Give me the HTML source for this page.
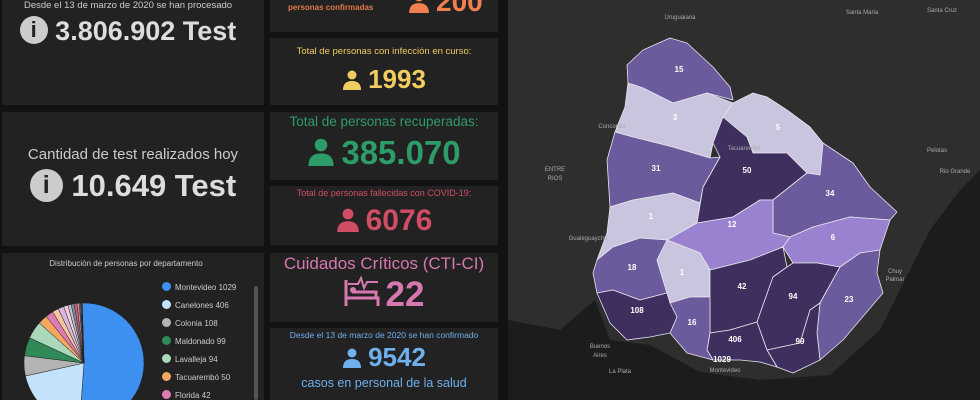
<!DOCTYPE html>
<html><head><meta charset="utf-8"><style>
*{margin:0;padding:0;box-sizing:border-box}
html,body{width:980px;height:400px;overflow:hidden}
body{background:#121212;font-family:"Liberation Sans","DejaVu Sans",sans-serif;position:relative}
.p{position:absolute;background:#222;overflow:hidden}
.c{position:absolute;left:0;right:0;text-align:center;white-space:nowrap}
.lg{position:absolute;left:160px;font-size:8px;color:#ccc}
.lg i{display:inline-block;width:9px;height:9px;border-radius:50%;vertical-align:-1px;margin-right:4px}
svg.ic{vertical-align:-2px;margin-right:6px}
</style></head><body>
<div class="p" style="left:2px;top:0;width:262px;height:105px">
 <div class="c" style="top:0;font-size:9.5px;color:#ccc;left:-10px">Desde el 13 de marzo de 2020 se han procesado</div>
 <div class="c" style="top:16px;font-size:27px;font-weight:bold;color:#ddd;left:-10px"><span style="display:inline-block;width:28px;height:28px;border-radius:50%;background:#ccc;color:#222;font-size:22px;line-height:28px;vertical-align:3px">i</span> 3.806.902 Test</div>
</div>
<div class="p" style="left:2px;top:112px;width:262px;height:134px">
 <div class="c" style="top:34px;font-size:15px;color:#ccc">Cantidad de test realizados hoy</div>
 <div class="c" style="top:56px;font-size:31px;font-weight:bold;color:#ddd"><span style="display:inline-block;width:33px;height:33px;border-radius:50%;background:#ccc;color:#222;font-size:25px;line-height:33px;vertical-align:3px">i</span> 10.649 Test</div>
</div>
<div class="p" style="left:2px;top:253px;width:262px;height:147px">
 <div class="c" style="top:6px;font-size:8px;color:#ccc;left:-14px">Distribución de personas por departamento</div>
 <svg id="pie" width="200" height="147" style="position:absolute;left:0;top:0"></svg>
 <div style="position:absolute;left:252px;top:33px;width:4px;height:114px;background:#555;border-radius:2px"></div>
 <div class="lg" style="top:29px"><i style="background:#3d8ff0"></i>Montevideo 1029</div>
 <div class="lg" style="top:47px"><i style="background:#c3e2fb"></i>Canelones 406</div>
 <div class="lg" style="top:65px"><i style="background:#b3b3b3"></i>Colonia 108</div>
 <div class="lg" style="top:83px"><i style="background:#2f8a58"></i>Maldonado 99</div>
 <div class="lg" style="top:101px"><i style="background:#a9d8bb"></i>Lavalleja 94</div>
 <div class="lg" style="top:119px"><i style="background:#f5a75f"></i>Tacuarembó 50</div>
 <div class="lg" style="top:137px"><i style="background:#df7bb3"></i>Florida 42</div>
</div>
<div class="p" style="left:270px;top:0;width:228px;height:32px">
 <div style="position:absolute;left:18px;top:3px;font-size:8px;font-weight:bold;color:#e0784a">personas confirmadas</div>
 <div style="position:absolute;left:138px;top:-14px;font-size:28px;font-weight:bold;color:#f08050;white-space:nowrap"><svg class="ic" width="22" height="22" viewBox="0 0 20 20"><circle cx="10" cy="5" r="4.5" fill="#f08050"/><path d="M1 20 Q1 11 10 11 Q19 11 19 20Z" fill="#f08050"/></svg>200</div>
</div>
<div class="p" style="left:270px;top:38px;width:228px;height:67px">
 <div class="c" style="top:8px;font-size:9.5px;color:#f2cc60">Total de personas con infección en curso:</div>
 <div class="c" style="top:26px;font-size:26px;font-weight:bold;color:#f2cc60"><svg class="ic" width="20" height="20" viewBox="0 0 20 20"><circle cx="10" cy="5" r="4.5" fill="#f2cc60"/><path d="M1 20 Q1 11 10 11 Q19 11 19 20Z" fill="#f2cc60"/></svg>1993</div>
</div>
<div class="p" style="left:270px;top:112px;width:228px;height:68px">
 <div class="c" style="top:2px;font-size:13.5px;color:#2e9c68">Total de personas recuperadas:</div>
 <div class="c" style="top:22px;font-size:33px;font-weight:bold;color:#2e9c68"><svg class="ic" width="28" height="28" viewBox="0 0 20 20"><circle cx="10" cy="5" r="4.5" fill="#2e9c68"/><path d="M1 20 Q1 11 10 11 Q19 11 19 20Z" fill="#2e9c68"/></svg>385.070</div>
</div>
<div class="p" style="left:270px;top:186px;width:228px;height:59px">
 <div class="c" style="top:2px;font-size:9px;color:#d04d65">Total de personas fallecidas con COVID-19:</div>
 <div class="c" style="top:18px;font-size:30px;font-weight:bold;color:#d04d65"><svg class="ic" width="24" height="24" viewBox="0 0 20 20"><circle cx="10" cy="5" r="4.5" fill="#d04d65"/><path d="M1 20 Q1 11 10 11 Q19 11 19 20Z" fill="#d04d65"/></svg>6076</div>
</div>
<div class="p" style="left:270px;top:253px;width:228px;height:69px">
 <div class="c" style="top:1px;font-size:17px;color:#d878b0">Cuidados Críticos (CTI-CI)</div>
 <div class="c" style="top:22px;font-size:35px;font-weight:bold;color:#d878b0"><svg class="ic" width="36" height="32" viewBox="0 0 36 32"><path d="M2 4 V30 M2 22 H34 V30 M8 16 H32 V22" stroke="#d878b0" stroke-width="3" fill="none"/><circle cx="9" cy="14" r="3" fill="#d878b0"/><path d="M4 8 H14 L17 2 L20 12 L23 6 H34" stroke="#d878b0" stroke-width="2" fill="none"/></svg>22</div>
</div>
<div class="p" style="left:270px;top:328px;width:228px;height:72px">
 <div class="c" style="top:2px;font-size:8.5px;color:#6fb0ee">Desde el 13 de marzo de 2020 se han confirmado</div>
 <div class="c" style="top:14px;font-size:26px;font-weight:bold;color:#6fb0ee"><svg class="ic" width="20" height="20" viewBox="0 0 20 20"><circle cx="10" cy="5" r="4.5" fill="#6fb0ee"/><path d="M1 20 Q1 11 10 11 Q19 11 19 20Z" fill="#6fb0ee"/></svg>9542</div>
 <div class="c" style="top:48px;font-size:12.5px;color:#6fb0ee">casos en personal de la salud</div>
</div>
<div style="position:absolute;left:508px;top:0;width:472px;height:400px;background:#2e2e2e;overflow:hidden">
<svg width="472" height="400" viewBox="508 0 472 400" style="position:absolute;left:0;top:0">
 <path d="M508 320 L560 330 L595 300 L610 340 L650 345 L700 372 L760 380 L830 375 L880 330 L905 280 L930 230 L960 190 L980 170 L980 400 L508 400 Z" fill="#1c1c1c"/>
 <g stroke="#e8e6f0" stroke-width="0.8" stroke-linejoin="round">
 <polygon fill="#6b5a9c" points="627,65 643,50 670,38 687,43 713,67 730,87 733,100 707,93 673,103 643,88 628,83"/>
 <polygon fill="#c9c5de" points="628,83 643,88 673,103 707,93 733,103 713,143 710,158 673,147 633,137 615,132 625,107"/>
 <polygon fill="#c9c5de" points="733,103 753,93 767,97 787,110 810,127 823,143 820,175 807,173 787,153 753,153 747,137 723,117"/>
 <polygon fill="#3e2f5f" points="723,117 747,137 753,153 787,153 807,173 773,200 760,200 733,217 697,223 703,187 720,157 713,143"/>
 <polygon fill="#6b5a9c" points="615,132 633,137 673,147 710,158 720,157 703,187 700,203 673,193 633,200 610,207 607,160"/>
 <polygon fill="#6b5a9c" points="807,173 820,175 823,143 853,163 870,187 897,212 890,220 850,217 813,227 790,237 773,233 773,200"/>
 <polygon fill="#c9c5de" points="610,207 633,200 673,193 700,203 697,223 667,240 640,238 613,247 597,260 607,233"/>
 <polygon fill="#9a82d0" points="697,223 733,217 760,200 773,200 773,233 790,237 783,247 750,260 710,270 700,253 667,240"/>
 <polygon fill="#9a82d0" points="790,237 813,227 850,217 890,220 880,250 860,253 840,267 817,263 793,263 783,247"/>
 <polygon fill="#6b5a9c" points="597,260 613,247 640,238 667,240 657,260 667,293 640,300 613,290 597,293 593,273"/>
 <polygon fill="#c9c5de" points="667,240 700,253 710,270 710,297 690,297 670,303 667,293 657,260"/>
 <polygon fill="#3e2f5f" points="710,270 750,260 783,247 787,267 773,277 757,322 730,330 710,333 710,297"/>
 <polygon fill="#3e2f5f" points="787,267 793,263 817,263 840,267 820,303 810,310 800,343 767,350 757,322 773,277"/>
 <polygon fill="#6b5a9c" points="840,267 860,253 880,250 877,273 883,293 860,320 843,340 820,360 817,333 820,303"/>
 <polygon fill="#3e2f5f" points="810,310 820,303 817,333 820,360 793,373 777,367 767,350 800,343"/>
 <polygon fill="#3e2f5f" points="710,333 730,330 757,322 767,350 777,367 760,362 740,360 713,360 707,350"/>
 <polygon fill="#6b5a9c" points="670,303 690,297 710,297 710,333 707,350 713,360 687,353 670,333 677,317"/>
 <polygon fill="#3e2f5f" points="597,293 613,290 640,300 667,293 670,303 677,317 670,333 650,337 627,340 610,323"/>
 </g>
 <g fill="#fff" font-size="8" font-weight="bold" text-anchor="middle" font-family="Liberation Sans,sans-serif">
 <text x="679" y="72">15</text><text x="675" y="120">3</text><text x="778" y="130">5</text>
 <text x="656" y="171">31</text><text x="747" y="173">50</text><text x="830" y="196">34</text>
 <text x="651" y="219">1</text><text x="732" y="227">12</text><text x="833" y="240">6</text>
 <text x="632" y="270">18</text><text x="682" y="275">1</text><text x="742" y="289">42</text>
 <text x="793" y="299">94</text><text x="849" y="302">23</text><text x="637" y="313">108</text>
 <text x="692" y="325">16</text><text x="800" y="344">99</text><text x="735" y="342">406</text>
 <text x="722" y="362">1029</text>
 </g>
 <g fill="#aaa" font-size="6" text-anchor="middle" font-family="Liberation Sans,sans-serif">
 <text x="680" y="19">Uruguaiana</text><text x="862" y="14">Santa Maria</text><text x="942" y="12">Santa Cruz</text>
 <text x="937" y="152">Pelotas</text><text x="955" y="173">Rio Grande</text><text x="612" y="128">Concordia</text>
 <text x="588" y="240">Gualeguaychú</text><text x="600" y="348">Buenos</text><text x="600" y="357">Aires</text>
 <text x="620" y="373">La Plata</text><text x="725" y="372">Montevideo</text><text x="555" y="171">ENTRE</text><text x="555" y="180">RIOS</text>
 <text x="895" y="273">Chuy</text><text x="895" y="281">Palmar</text><text x="744" y="150">Tacuarembó</text>
 </g>
</svg>
</div>
<script>
var v=[1029,406,108,99,94,50,42,34,31,23,18,16,15,12,6,5,3,1,1];
var col=["#3d8ff0","#c3e2fb","#b3b3b3","#2f8a58","#a9d8bb","#f5a75f","#df7bb3","#f4c6a0","#d9b5e0","#f0d0d8","#c0c0d0","#8090a0","#d06080","#e09090","#70a0c0","#b070b0","#90c090","#c0a070","#707070"];
var t=v.reduce(function(a,b){return a+b},0),cx=82,cy=110,r=60,a=-0.03,s="";
for(var i=0;i<v.length;i++){var b=a+v[i]/t*2*Math.PI;
var x1=cx+r*Math.sin(a),y1=cy-r*Math.cos(a),x2=cx+r*Math.sin(b),y2=cy-r*Math.cos(b);
s+='<path d="M'+cx+' '+cy+' L'+x1+' '+y1+' A'+r+' '+r+' 0 '+((b-a)>Math.PI?1:0)+' 1 '+x2+' '+y2+' Z" fill="'+col[i]+'" stroke="#222" stroke-width="0.5"/>';a=b;}
document.getElementById("pie").innerHTML=s;
</script>
</body></html>
